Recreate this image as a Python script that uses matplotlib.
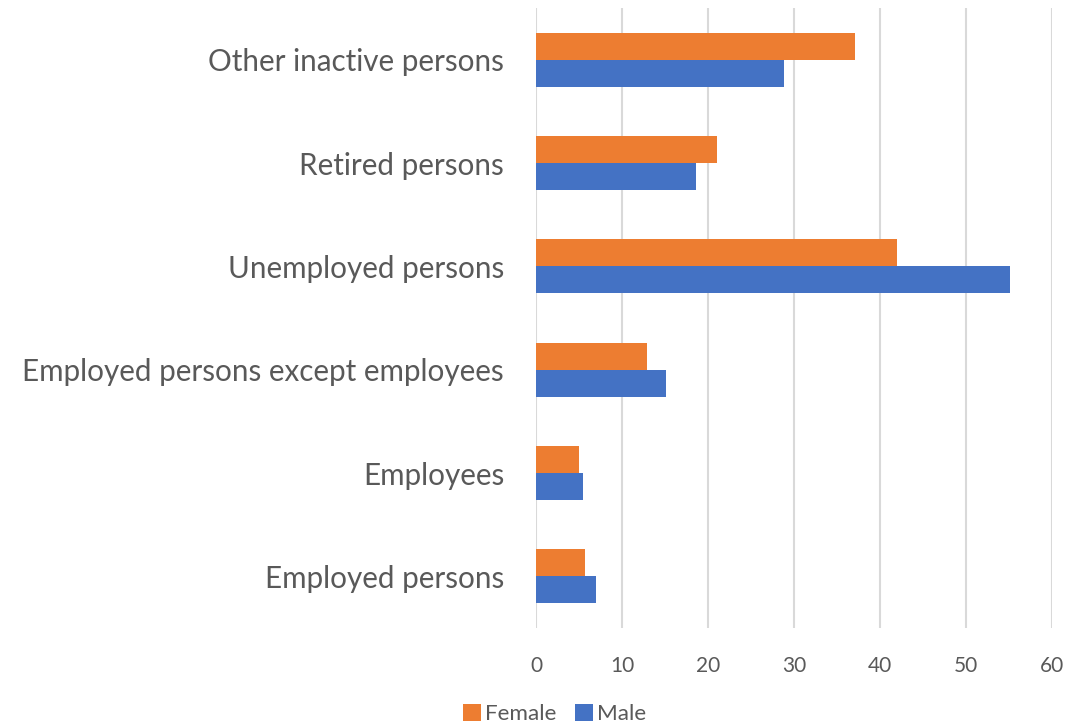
import matplotlib
matplotlib.use("Agg")
import matplotlib.pyplot as plt
import numpy as np

categories = ["Employed persons", "Employees", "Employed persons except employees",
              "Unemployed persons", "Retired persons", "Other inactive persons"]
female = [5.7, 5.0, 12.9, 42.0, 21.0, 37.1]
male = [7.0, 5.5, 15.1, 55.1, 18.6, 28.8]
xticks = [0, 10, 20, 30, 40, 50, 60]

plt.rcParams['font.family'] = ['Lato', 'DejaVu Sans']
txt = '#595959'
fig = plt.figure(figsize=(10.83, 7.23), dpi=100)
ax = fig.add_axes([536/1083, 1-628/723, (1052-536)/1083, 620/723])

y = np.arange(len(categories))
h = 0.26
ax.barh(y + h/2, female, height=h, color='#ED7D31', label='Female', zorder=3)
ax.barh(y - h/2, male, height=h, color='#4472C4', label='Male', zorder=3)

ax.set_xlim(0, 60)
ax.set_ylim(-0.5, len(categories) - 0.5)
ax.set_xticks(xticks)
ax.set_xticklabels([str(t) for t in xticks], fontsize=15, color=txt)
ax.set_yticks(y)
ax.set_yticklabels(categories, fontsize=21.3, color=txt)
ax.tick_params(axis='both', length=0)
ax.tick_params(axis='x', pad=20)
ax.tick_params(axis='y', pad=23)
ax.grid(axis='x', color='#d9d9d9', linewidth=1.5, zorder=0)
for s in ax.spines.values():
    s.set_visible(False)

handles, labels = ax.get_legend_handles_labels()
fig.legend(handles, labels, loc='lower center', bbox_to_anchor=(0.512, -0.03), ncol=2,
           frameon=False, fontsize=16.2, labelcolor=txt, handlelength=0.8,
           handleheight=0.8, handletextpad=0.15, columnspacing=0.85)

fig.savefig('out.png', dpi=100)
